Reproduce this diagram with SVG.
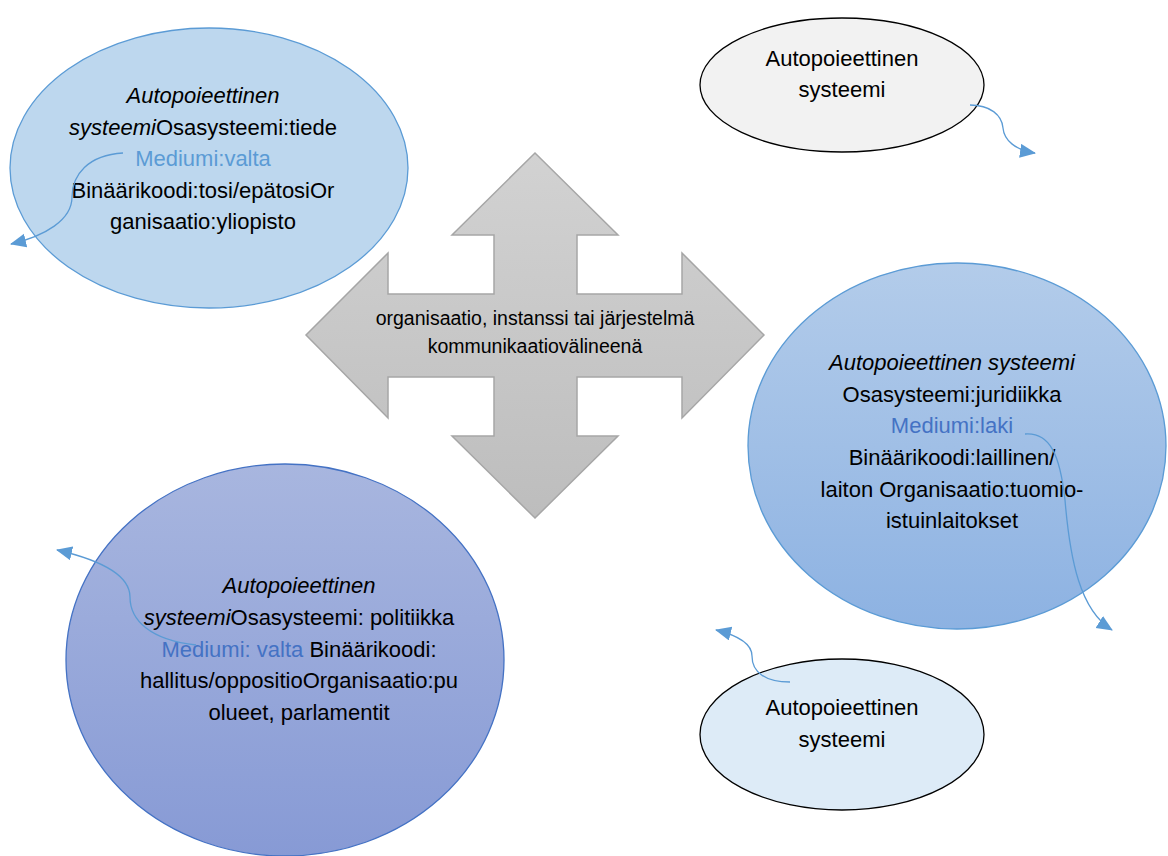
<svg xmlns="http://www.w3.org/2000/svg" width="1168" height="856" viewBox="0 0 1168 856">
<style>
text{font-family:"Liberation Sans",Arial,sans-serif;font-size:22px;fill:#000;text-anchor:middle}
.it{font-style:italic}
.m1{fill:#5B9BD5}
.m2{fill:#4472C4}
.small{font-size:19.5px}
.conn{fill:none;stroke:#5B9BD5;stroke-width:1.3}
</style>
<defs>
<linearGradient id="gCross" x1="0" y1="0" x2="0" y2="1"><stop offset="0" stop-color="#D2D2D2"/><stop offset="1" stop-color="#BDBDBD"/></linearGradient>
<linearGradient id="gRight" x1="0" y1="0" x2="0" y2="1"><stop offset="0" stop-color="#B3CCEA"/><stop offset="1" stop-color="#8DB2E2"/></linearGradient>
<linearGradient id="gBL" x1="0" y1="0" x2="0" y2="1"><stop offset="0" stop-color="#A8B6DF"/><stop offset="1" stop-color="#879AD5"/></linearGradient>
<marker id="arr" markerUnits="userSpaceOnUse" markerWidth="18" markerHeight="16" refX="15" refY="7" orient="auto"><path d="M0,0 L16,7 L0,14 Z" fill="#5B9BD5"/></marker>
</defs>
<rect width="1168" height="856" fill="#fff"/>
<g id="node-tiede">
<ellipse cx="209" cy="168" rx="199" ry="140" fill="#BDD7EE" stroke="#5B9BD5" stroke-width="1.3"/>
<text x="203" y="103" class="it">Autopoieettinen</text>
<text x="203" y="135"><tspan class="it">systeemi</tspan>Osasysteemi:tiede</text>
<text x="203" y="166" class="m1">Mediumi:valta</text>
<text x="203" y="198">Binäärikoodi:tosi/epätosiOr</text>
<text x="203" y="229">ganisaatio:yliopisto</text>
</g>
<g id="node-system-top">
<ellipse cx="842" cy="85" rx="142" ry="67" fill="#F2F2F2" stroke="#000" stroke-width="1.3"/>
<text x="842" y="66">Autopoieettinen</text>
<text x="842" y="97">systeemi</text>
</g>
<g id="node-cross">
<polygon points="535,153 618,235 577,235 577,294 682,294 682,253 764,335 682,418 682,377 577,377 577,436 618,436 535,518 452,436 494,436 494,377 388,377 388,418 306,335 388,253 388,294 494,294 494,235 452,235" fill="url(#gCross)" stroke="#A6A6A6" stroke-width="1.5"/>
<text x="535" y="325" class="small">organisaatio, instanssi tai järjestelmä</text>
<text x="535" y="353" class="small">kommunikaatiovälineenä</text>
</g>
<g id="node-juridiikka">
<ellipse cx="957" cy="446" rx="209" ry="183" fill="url(#gRight)" stroke="#5B9BD5" stroke-width="1.3"/>
<text x="952" y="370" class="it">Autopoieettinen systeemi</text>
<text x="952" y="402">Osasysteemi:juridiikka</text>
<text x="952" y="433" class="m2">Mediumi:laki</text>
<text x="952" y="465">Binäärikoodi:laillinen/</text>
<text x="952" y="497">laiton Organisaatio:tuomio-</text>
<text x="952" y="528">istuinlaitokset</text>
</g>
<g id="node-politiikka">
<ellipse cx="285" cy="660" rx="219" ry="196" fill="url(#gBL)" stroke="#4472C4" stroke-width="1.3"/>
<text x="299" y="593" class="it">Autopoieettinen</text>
<text x="299" y="625"><tspan class="it">systeemi</tspan>Osasysteemi: politiikka</text>
<text x="299" y="657"><tspan class="m2">Mediumi: valta</tspan> Binäärikoodi:</text>
<text x="299" y="688">hallitus/oppositioOrganisaatio:pu</text>
<text x="299" y="720">olueet, parlamentit</text>
</g>
<g id="node-system-bottom">
<ellipse cx="842" cy="734.5" rx="142" ry="75.5" fill="#DDEBF7" stroke="#000" stroke-width="1.3"/>
<text x="842" y="715">Autopoieettinen</text>
<text x="842" y="747">systeemi</text>
</g>
<g id="connectors">
<path class="conn" marker-end="url(#arr)" d="M123,153 C88,155 72,175 72,197 C72,220 45,236 11,244"/>
<path class="conn" marker-end="url(#arr)" d="M970,105 C990,105 1002,115 1003,128 C1004,140 1015,150 1035,153"/>
<path class="conn" marker-end="url(#arr)" d="M1025,434 C1050,432 1060,455 1065,500 C1070,560 1080,610 1112,630"/>
<path class="conn" marker-end="url(#arr)" d="M196,645 C150,640 130,620 130,597 C130,575 100,560 57,550"/>
<path class="conn" marker-end="url(#arr)" d="M790,682 C765,682 752,672 752,656 C752,645 740,636 716,630"/>
</g>
</svg>
